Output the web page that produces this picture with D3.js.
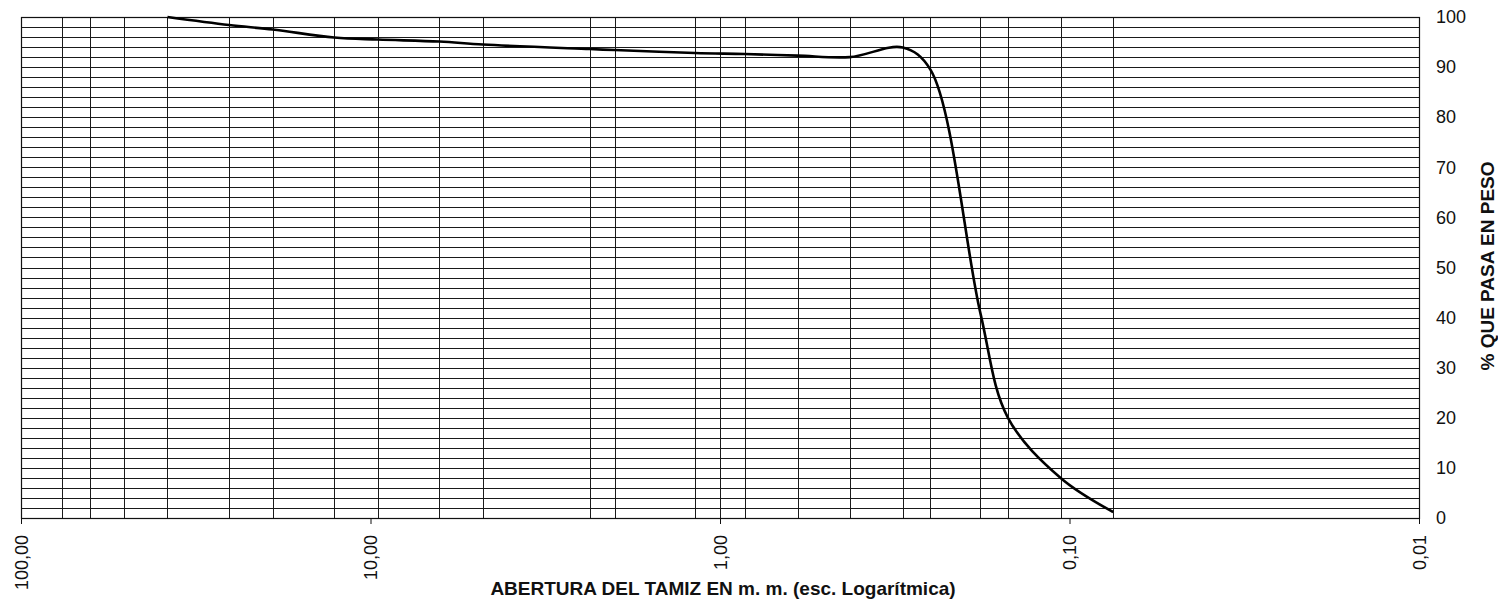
<!DOCTYPE html>
<html>
<head>
<meta charset="utf-8">
<script src="https://cdn.jsdelivr.net/npm/d3@7"></script>
<style>
  html, body { margin: 0; padding: 0; background: #fff; }
  svg { display: block; font-family: "Liberation Sans", Arial, sans-serif; }
</style>
</head>
<body>
<svg id="chart" width="1498" height="599"></svg>
<script>
// Sieve openings (mm) and percent passing
const sieveSizes = [38.1, 25.4, 19.05, 12.7, 9.525, 6.35, 4.76, 2.36, 2.0, 1.18, 0.85, 0.6, 0.425, 0.3, 0.25, 0.18, 0.15, 0.106, 0.075];
const percentPassing = [100, 98.4, 97.5, 95.9, 95.5, 95.1, 94.5, 93.6, 93.4, 92.8, 92.6, 92.3, 92.0, 93.9, 89.5, 41, 20, 8, 1.2];

// Vertical grid lines (sieve openings, mm)
const gridSizes = [76.2, 63.5, 50.8, 38.1, 25.4, 19.05, 12.7, 9.525, 6.35, 4.76, 2.36, 2.0, 1.18, 1.0, 0.85, 0.6, 0.425, 0.3, 0.25, 0.18, 0.15, 0.106, 0.075];
// X axis tick values and labels
const xTickValues = [100, 10, 1, 0.1, 0.01];
const xTickLabels = ["100,00", "10,00", "1,00", "0,10", "0,01"];
// Y axis ticks
const yTickValues = [0, 10, 20, 30, 40, 50, 60, 70, 80, 90, 100];
const yMinorGrid = d3.range(0, 101, 2);

const xTitle = "ABERTURA DEL TAMIZ EN m. m. (esc. Logarítmica)";
const yTitle = "% QUE PASA EN PESO";

(function () {
const svg = d3.select("#chart");
const mLeft = 21, mRight = 1419, mTop = 17, mBottom = 518;

const x = d3.scaleLog().domain([100, 0.01]).range([mLeft, mRight]);
const y = d3.scaleLinear().domain([0, 100]).range([mBottom, mTop]);

const grid = svg.append("g").attr("stroke", "#1a1a1a").attr("stroke-width", 1).attr("shape-rendering", "crispEdges");

grid.selectAll("line.h").data(yMinorGrid).join("line")
  .attr("class", "h")
  .attr("x1", mLeft).attr("x2", mRight)
  .attr("y1", d => Math.round(y(d)) + 0.5).attr("y2", d => Math.round(y(d)) + 0.5);

grid.selectAll("line.v").data(gridSizes).join("line")
  .attr("class", "v")
  .attr("y1", mTop).attr("y2", mBottom)
  .attr("x1", d => Math.round(x(d)) + 0.5).attr("x2", d => Math.round(x(d)) + 0.5);

svg.append("rect")
  .attr("x", mLeft + 0.5).attr("y", mTop + 0.5)
  .attr("width", mRight - mLeft).attr("height", mBottom - mTop)
  .attr("fill", "none").attr("stroke", "#111").attr("stroke-width", 1.2);

const xAxis = d3.axisBottom(x).tickValues(xTickValues)
  .tickFormat((d, i) => xTickLabels[i]).tickSize(6).tickSizeOuter(0);
const gx = svg.append("g").attr("transform", `translate(0,${mBottom})`).call(xAxis);
gx.select(".domain").remove();
gx.selectAll(".tick line").attr("stroke", "#111");
gx.selectAll(".tick text")
  .attr("font-size", 18)
  .attr("fill", "#111")
  .attr("text-anchor", "end")
  .attr("transform", "rotate(-90)")
  .attr("x", -17)
  .attr("y", 0)
  .attr("dy", "0.36em");

const yAxis = d3.axisRight(y).tickValues(yTickValues).tickSize(0).tickPadding(17);
const gy = svg.append("g").attr("transform", `translate(${mRight},0)`).call(yAxis);
gy.select(".domain").remove();
gy.selectAll(".tick text").attr("font-size", 18).attr("fill", "#111");

const line = d3.line()
  .x(d => x(d[0]))
  .y(d => y(d[1]))
  .curve(d3.curveCatmullRom.alpha(0.5));
svg.append("path")
  .datum(d3.zip(sieveSizes, percentPassing))
  .attr("d", line)
  .attr("fill", "none")
  .attr("stroke", "#000")
  .attr("stroke-width", 2.6)
  .attr("stroke-linejoin", "round");

svg.append("text")
  .attr("x", 723).attr("y", 595)
  .attr("text-anchor", "middle")
  .attr("font-size", 19).attr("font-weight", "bold").attr("fill", "#111")
  .text(xTitle);

svg.append("text")
  .attr("transform", "translate(1487,266) rotate(-90)")
  .attr("text-anchor", "middle")
  .attr("dy", "0.35em")
  .attr("font-size", 19).attr("font-weight", "bold").attr("fill", "#111")
  .text(yTitle);
})();
</script>
</body>
</html>
